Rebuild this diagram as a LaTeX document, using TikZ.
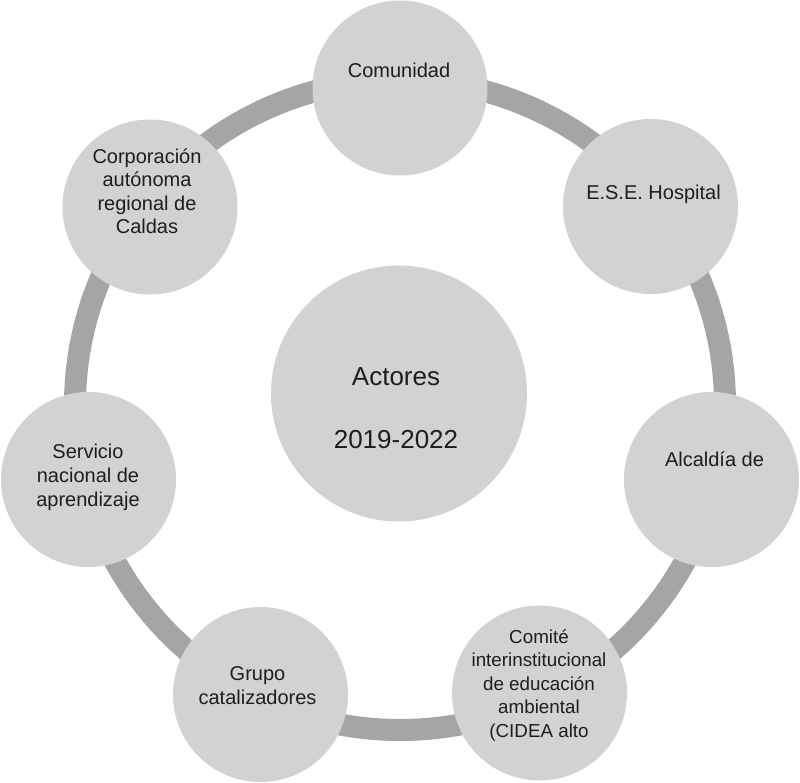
\documentclass[tikz,border=0pt]{standalone}
\usepackage{fontspec}
\setmainfont{Liberation Sans}
\definecolor{ringgray}{RGB}{165,165,167}
\definecolor{nodegray}{RGB}{209,210,212}
\definecolor{txt}{RGB}{30,30,30}
\begin{document}
\begin{tikzpicture}[x=1pt,y=-1pt,
  ring/.style={draw=ringgray,line width=22pt},
  actor/.style={circle,fill=nodegray,draw=none,inner sep=0pt,minimum size=175pt},
  hub/.style={circle,fill=nodegray,draw=none,inner sep=0pt,minimum size=256pt},
  lbl/.style={align=center,anchor=base,inner sep=0pt,text=txt,font=\fontsize{20}{23.6}\selectfont},
  smalllbl/.style={lbl,font=\fontsize{18.8}{23.5}\selectfont},
  hublbl/.style={lbl,font=\fontsize{26}{31.5}\selectfont}]
\fill[white] (0,0) rectangle (800,783);
\useasboundingbox (0,0) rectangle (800,783);
\coordinate (c) at (400,405);
\draw[ring] (c) circle (325pt);
\node[actor] (n1) at (400,88) {};
\node[actor] (n2) at (650.5,206.5) {};
\node[actor] (n3) at (711.5,479.5) {};
\node[actor] (n4) at (539.5,693) {};
\node[actor] (n5) at (260.5,694.5) {};
\node[actor] (n6) at (88.5,479.5) {};
\node[actor] (n7) at (150,207) {};
\node[hub] (h) at (399,393.5) {};
\node[lbl] (t1) at (399,78) {Comunidad};
\node[lbl] (t2) at (653.5,200) {E.S.E. Hospital};
\node[lbl] (t3) at (714.5,466) {Alcaldía de};
\node[smalllbl] (t4) at (539,737) {Comité\\interinstitucional\\de educación\\ambiental\\(CIDEA alto};
\node[lbl] (t5) at (257.5,704) {Grupo\\catalizadores};
\node[lbl] (t6) at (88,506) {Servicio\\nacional de\\aprendizaje};
\node[lbl] (t7) at (147,234) {Corporación\\autónoma\\regional de\\Caldas};
\node[hublbl] (th) at (396,448) {Actores\\[31.5pt]2019-2022};
\end{tikzpicture}
\end{document}
